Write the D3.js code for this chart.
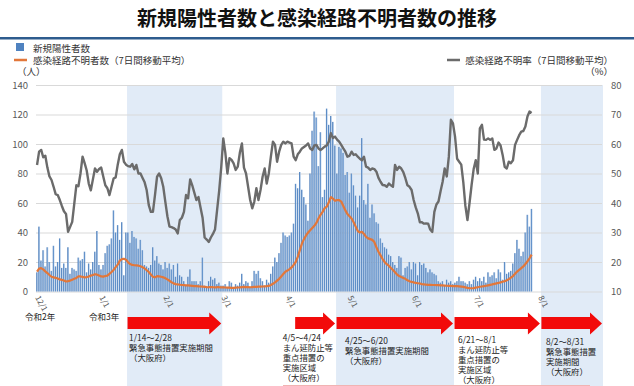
<!DOCTYPE html>
<html>
<head>
<meta charset="utf-8">
<script src="https://cdn.jsdelivr.net/npm/d3@7"></script>
<style>
  body { margin: 0; background: #fff; }
  svg { display: block; font-family: "Noto Sans CJK JP", "Noto Sans", sans-serif; }
  .axis path { display: none; }
  .axis line { stroke: none; }
  .grid line { stroke: #d9d9d9; }
  .grid path { display: none; }
</style>
</head>
<body>
<svg id="chart" width="634" height="386"></svg>
<script>

// 新規陽性者数 daily, 2020/12/1 - 2021/7/28 (one row per month)
var cases = [
  13, 44, 21, 28, 17, 30, 20, 14, 31, 17, 20, 36, 16, 19, 16, 30, 12, 16, 15, 14, 23, 21, 22, 27, 13, 19, 15, 20, 27, 41, 18,
  15, 18, 26, 31, 32, 36, 55, 40, 45, 35, 47, 11, 40, 40, 33, 41, 37, 36, 29, 35, 28, 18, 17, 16, 18, 30, 21, 24, 19, 18, 15,
  20, 16, 19, 15, 18, 10, 19, 11, 10, 7, 4, 10, 15, 7, 7, 7, 5, 7, 23, 4, 3, 7, 10, 8, 9, 5, 6, 4,
  4, 5, 3, 7, 6, 2, 5, 4, 6, 12, 5, 7, 6, 3, 7, 14, 12, 14, 9, 7, 4, 8, 6, 12, 17, 23, 20, 26, 33, 40, 38,
  37, 38, 40, 46, 73, 70, 81, 69, 64, 59, 48, 80, 109, 122, 118, 85, 108, 64, 69, 124, 113, 119, 115, 99, 80, 98, 97, 94, 79, 81,
  67, 80, 72, 65, 57, 65, 104, 62, 59, 73, 50, 59, 53, 47, 46, 36, 33, 30, 29, 25, 24, 20, 18, 16, 24, 23, 11, 16, 17, 20, 15,
  20, 19, 11, 20, 18, 19, 16, 13, 15, 13, 12, 11, 7, 6, 7, 4, 8, 6, 7, 5, 6, 7, 10, 7, 7, 6, 5, 7, 5, 8,
  10, 7, 9, 7, 10, 6, 13, 10, 11, 13, 9, 15, 13, 8, 20, 12, 13, 14, 19, 26, 35, 29, 24, 27, 40, 52, 44, 56
];

// 感染経路不明者数（7日間移動平均）
var unknownAvg = [
  13.4, 15.5, 15.8, 15, 13.6, 12.5, 11.2, 10, 9.6, 9.2, 8.8, 8.2, 7.9, 7.5, 6.8, 7, 7.4, 8, 8.6, 9.2, 10.3, 10.2, 9.9, 9.6, 9.8, 10.1, 10.8, 11.2, 11.7, 11.4, 10.8,
  10.2, 10.1, 10.5, 10.8, 12, 13.2, 14.6, 16.5, 18.2, 21, 22, 22.2, 21.6, 19.8, 18.6, 18, 17.8, 17.7, 17.5, 17.1, 16.5, 15.6, 14.4, 13.2, 11.5, 10, 9.6, 10.4, 10.2, 10, 9.6,
  9, 8.2, 7.3, 6.2, 5.5, 5, 4.8, 4.6, 4.4, 4.3, 4.2, 4.1, 4, 3.8, 3.6, 3.6, 3.5, 3.4, 3.3, 3.2, 3, 2.9, 2.9, 2.9, 2.8, 2.9, 2.9, 2.8,
  2.8, 2.7, 2.6, 2.6, 2.5, 2.5, 2.6, 2.7, 2.8, 3.0, 3.1, 3.0, 3.0, 2.9, 3.0, 3.1, 3.2, 3.3, 3.3, 3.4, 3.5, 3.6, 3.8, 4.4, 5.2, 6.2, 7.4, 8.6, 10.2, 11.8, 13.4,
  14.2, 15.2, 16.3, 18, 20, 23.5, 28, 32.5, 35.5, 38, 40, 41.5, 43, 44.5, 46.5, 49.5, 52, 54, 56.5, 57.5, 60.5, 64, 63, 61.5, 62, 62, 61, 58, 55, 52.5,
  51, 49.5, 47, 44, 41, 40, 40.5, 39, 37, 36, 35.5, 35, 33.5, 30, 27, 24.5, 22, 20, 18.5, 17.5, 16, 14.5, 13, 11.5, 10.5, 9.8, 9.2, 8.6, 7.6, 7, 6.5,
  6.2, 5.8, 5.6, 5.4, 5.0, 4.8, 4.6, 4.5, 4.5, 4.4, 4.4, 4.3, 4.3, 4.2, 4.1, 4.0, 3.9, 3.8, 3.8, 3.7, 3.7, 3.6, 3.5, 3.3, 3.1, 2.8, 2.5, 2.3, 2.2, 2.3,
  2.6, 2.9, 3.2, 3.4, 3.6, 3.9, 4.2, 4.5, 4.8, 5.2, 5.5, 5.8, 6.2, 6.6, 7.0, 7.6, 8.4, 9.4, 10.5, 12, 13.5, 14.6, 15.8, 17, 18.6, 20.5, 22.5, 25
];

// 感染経路不明率（7日間移動平均, %）
var unknownRate = [
  52.9, 57.4, 58, 55.5, 56, 52, 49, 47.8, 45.5, 43, 42.7, 41, 39, 37.2, 36.3, 30.2, 31.9, 33.6, 39.8, 46, 45.7, 50, 55.7, 53.5, 51, 46.6, 44.3, 48, 51.7, 50.6, 51.5,
  52, 49, 46, 45, 42.7, 45.5, 48.3, 48.7, 53, 56.5, 58, 54, 53, 52.5, 52.3, 53.2, 51.4, 52.9, 50, 50, 48.5, 47, 44.3, 39.3, 37, 37, 42.7, 48.9, 50, 48.4, 45.5,
  40.4, 35.5, 32, 31.8, 31.5, 31, 29.7, 34.2, 35, 37, 42.7, 41.6, 48, 46, 43.5, 41, 42, 38.5, 35, 28.3, 27.6, 26.8, 28.3, 29.5, 31, 37.5, 44, 52,
  61.9, 57, 50, 55.2, 54.6, 53.4, 51.2, 52.3, 57, 60.2, 52, 50, 45.5, 41, 38.2, 40.5, 45, 41, 44.4, 48.9, 51.7, 46.6, 50, 55.7, 60.8, 59.7, 54, 57.4, 59.7, 60.8, 60.2,
  60.8, 60.5, 60.2, 55.7, 54.5, 56.5, 57.4, 58.5, 59, 59.5, 60.2, 58.5, 58, 59.5, 59.7, 58.5, 58, 58.5, 59.1, 59.5, 60.8, 63.7, 62, 62.5, 61.5, 60.8, 59.7, 58.5, 57.4, 55.7,
  56, 57.4, 56.3, 56.5, 55.7, 55, 54.5, 55.7, 52.3, 52, 51.2, 51.7, 51.5, 50.6, 48.5, 47.2, 46.1, 46, 45.5, 46.6, 46, 45.5, 52.9, 51.2, 52.3, 51.7, 50.5, 48.4, 46, 45.5, 44.4,
  41, 38.5, 36.5, 33.5, 33.5, 33, 33.1, 33, 31, 30.2, 37, 39.5, 40.5, 44, 47.2, 51.7, 49, 55.7, 68.2, 67, 62.5, 55, 54, 53, 47, 39, 34.2, 40, 46.1, 51.5,
  54.5, 50, 65.3, 66.5, 61.5, 61.4, 61.9, 61.4, 61.9, 58, 58.5, 60.5, 59.5, 56.3, 52.3, 51.7, 54, 53.5, 54.5, 59.7, 61.4, 63, 64.2, 64.4, 65.9, 69.3, 71, 70.5
];

var leftTicks = [0, 20, 40, 60, 80, 100, 120, 140];
var rightTicks = [10, 20, 30, 40, 50, 60, 70, 80];

// 措置期間 (start, end inclusive) and their captions
var periods = [
  { start: "2021-01-14", end: "2021-02-28", shade: true,
    lines: ["1/14～2/28", "緊急事態措置実施期間", "（大阪府）"] },
  { start: "2021-04-05", end: "2021-04-24", shade: false,
    lines: ["4/5～4/24", "まん延防止等", "重点措置の", "実施区域", "（大阪府）"] },
  { start: "2021-04-25", end: "2021-06-20", shade: true,
    lines: ["4/25～6/20", "緊急事態措置実施期間", "（大阪府）"] },
  { start: "2021-06-21", end: "2021-08-01", shade: false,
    lines: ["6/21～8/1", "まん延防止等", "重点措置の", "実施区域", "（大阪府）"] },
  { start: "2021-08-02", end: "2021-08-31", shade: true,
    lines: ["8/2～8/31", "緊急事態措置", "実施期間", "（大阪府）"] }
];

var yearLabels = [
  { date: "2020-12-01", text: "令和2年" },
  { date: "2021-01-01", text: "令和3年" }
];

var parseDay = d3.timeParse("%Y-%m-%d");

var plotLeft = 36, plotRight = 603, plotTop = 85, plotBottom = 291.5;

var days = d3.timeDay.range(new Date(2020, 11, 1), new Date(2021, 8, 1));
var dayKey = d3.timeFormat("%Y-%m-%d");
var keys = days.map(dayKey);

var x = d3.scaleBand().domain(keys).range([plotLeft, plotRight]).padding(0);
var bw = x.bandwidth();

var yLeft = d3.scaleLinear().domain([0, 140]).range([plotBottom, plotTop]);
var yRight = d3.scaleLinear().domain([10, 80]).range([plotBottom, plotTop]);

var svg = d3.select("#chart");

var defs = svg.append("defs");
var grad = defs.append("linearGradient").attr("id", "barGrad")
  .attr("x1", 0).attr("x2", 1).attr("y1", 0).attr("y2", 0);
grad.append("stop").attr("offset", "0%").attr("stop-color", "#4274b3");
grad.append("stop").attr("offset", "40%").attr("stop-color", "#6392ca");
grad.append("stop").attr("offset", "100%").attr("stop-color", "#cadcf1");

// title
svg.append("text")
  .attr("x", 317).attr("y", 26)
  .attr("text-anchor", "middle")
  .style("font-size", "20px").style("font-weight", "bold").style("fill", "#111")
  .text("新規陽性者数と感染経路不明者数の推移");

svg.append("rect").attr("x", 0).attr("y", 37).attr("width", 634).attr("height", 2.5)
  .attr("fill", "#2e5c8e");

// shaded periods
function bandEnd(k) {
  var nk = dayKey(d3.timeDay.offset(parseDay(k), 1));
  return x(nk) !== undefined ? x(nk) : plotRight;
}

svg.append("g").selectAll("rect")
  .data(periods.filter(p => p.shade))
  .enter().append("rect")
  .attr("x", d => x(d.start))
  .attr("y", plotTop)
  .attr("width", d => bandEnd(d.end) - x(d.start))
  .attr("height", 386 - plotTop)
  .attr("fill", "#e1ebf7");

// gridlines
svg.append("g").attr("class", "grid")
  .attr("transform", `translate(${plotLeft},0)`)
  .call(d3.axisLeft(yLeft).tickValues(leftTicks).tickSize(-(plotRight - 1 - plotLeft)).tickFormat(""));

// left axis
svg.append("g").attr("class", "axis")
  .attr("transform", `translate(${plotLeft},0)`)
  .call(d3.axisLeft(yLeft).tickValues(leftTicks).tickSize(0).tickPadding(8))
  .selectAll("text").style("font-size", "9.5px").style("fill", "#595959")
  .style("font-family", "'Noto Sans CJK JP', sans-serif");

// right axis
svg.append("g").attr("class", "axis")
  .attr("transform", `translate(${plotRight - 1},0)`)
  .call(d3.axisRight(yRight).tickValues(rightTicks).tickSize(0).tickPadding(9))
  .selectAll("text").style("font-size", "9.5px").style("fill", "#595959")
  .style("font-family", "'Noto Sans CJK JP', sans-serif");

// bars
var caseData = cases.map((v, i) => ({ key: keys[i], v: v }));
svg.append("g").selectAll("rect")
  .data(caseData)
  .enter().append("rect")
  .attr("x", d => x(d.key) + bw * 0.1)
  .attr("y", d => yLeft(d.v))
  .attr("width", bw * 0.85)
  .attr("height", d => plotBottom - yLeft(d.v))
  .attr("fill", "url(#barGrad)");

// orange line
var avgData = unknownAvg.map((v, i) => ({ key: keys[i], v: v }));
svg.append("path")
  .datum(avgData)
  .attr("fill", "none")
  .attr("stroke", "#e2773a")
  .attr("stroke-width", 2.2)
  .attr("stroke-linejoin", "round")
  .attr("d", d3.line().x(d => x(d.key) + bw / 2).y(d => yLeft(d.v)));

// gray line
var rateData = unknownRate.map((v, i) => ({ key: keys[i], v: v }));
svg.append("path")
  .datum(rateData)
  .attr("fill", "none")
  .attr("stroke", "#6b6b6b")
  .attr("stroke-width", 2.4)
  .attr("stroke-linejoin", "round")
  .attr("d", d3.line().x(d => x(d.key) + bw / 2).y(d => yRight(d.v)));

// x axis (month starts, rotated)
var monthStarts = keys.filter(k => k.slice(-2) === "01" && k <= "2021-08-01");
var fmt = d3.timeFormat("%-m/%-d");
var xAxis = svg.append("g").attr("class", "axis")
  .attr("transform", `translate(0,${plotBottom})`)
  .call(d3.axisBottom(x).tickValues(monthStarts).tickSize(0).tickPadding(0)
    .tickFormat(k => fmt(parseDay(k))));
xAxis.selectAll("text")
  .attr("y", 0).attr("dy", 0)
  .attr("transform", "translate(-2,6) rotate(62)")
  .style("text-anchor", "start")
  .style("font-size", "8px").style("fill", "#595959")
  .style("font-family", "'Noto Sans CJK JP', sans-serif");

// year labels
svg.append("g").selectAll("text")
  .data(yearLabels)
  .enter().append("text")
  .attr("x", d => x(d.date) + bw / 2 + 3)
  .attr("y", 320)
  .attr("text-anchor", "middle")
  .style("font-size", "8.5px").style("fill", "#222")
  .text(d => d.text);

// red arrows
var arrowTop = 312.5, arrowBot = 334.5, bodyTop = 317, bodyBot = 329, head = 12;
svg.append("g").selectAll("path")
  .data(periods)
  .enter().append("path")
  .attr("fill", "#f20a0a")
  .attr("d", function(d) {
    var x0 = x(d.start) + 0.5, x1 = bandEnd(d.end) - 1;
    var mid = (arrowTop + arrowBot) / 2;
    return `M${x0},${bodyTop}L${x1 - head},${bodyTop}L${x1 - head},${arrowTop}L${x1},${mid}` +
      `L${x1 - head},${arrowBot}L${x1 - head},${bodyBot}L${x0},${bodyBot}Z`;
  });

// captions
var capOffsets = [2, -12, 9, 4, 5];
var capTop = [341, 341, 344, 343, 345];
var lineGap = 10;
periods.forEach(function(p, i) {
  var g = svg.append("g").style("font-size", "8.4px").style("fill", "#222");
  p.lines.forEach(function(line, j) {
    g.append("text")
      .attr("x", x(p.start) + capOffsets[i])
      .attr("y", capTop[i] + j * lineGap)
      .text(line);
  });
});

svg.append("line").attr("x1", 283).attr("x2", 590).attr("y1", 385.5).attr("y2", 385.5)
  .attr("stroke", "#f1b3b3").attr("stroke-width", 1);

// legend
var lg = svg.append("g").style("font-size", "9.5px").style("fill", "#333");
lg.append("rect").attr("x", 16).attr("y", 43).attr("width", 8).attr("height", 8).attr("fill", "#4f82c0");
lg.append("text").attr("x", 33).attr("y", 52).text("新規陽性者数");
lg.append("line").attr("x1", 14).attr("x2", 27).attr("y1", 60).attr("y2", 60)
  .attr("stroke", "#e2773a").attr("stroke-width", 2.5);
lg.append("text").attr("x", 33).attr("y", 64).text("感染経路不明者数（7日間移動平均）");
lg.append("text").attr("x", 17).attr("y", 75).text("（人）");
lg.append("line").attr("x1", 447).attr("x2", 460).attr("y1", 60).attr("y2", 60)
  .attr("stroke", "#6b6b6b").attr("stroke-width", 2.5);
lg.append("text").attr("x", 613).attr("y", 64).attr("text-anchor", "end").text("感染経路不明率（7日間移動平均）");
lg.append("text").attr("x", 613).attr("y", 75).attr("text-anchor", "end").text("（%）");

</script>
</body>
</html>
